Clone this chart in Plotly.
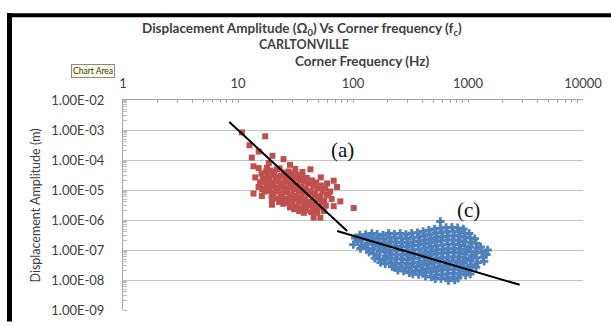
import plotly.graph_objects as go

# ---------------- data (log10 values) ----------------
# Red cluster (a): log10 corner frequency, log10 displacement amplitude
red_logf = [
    1.034, 1.237, 1.100, 1.180, 1.120, 1.268, 1.396, 1.135, 1.180, 1.252,
    1.339, 1.498, 1.630, 1.150, 1.193, 1.179, 1.135, 1.208, 1.295, 1.295,
    1.832, 1.861, 1.788, 1.890, 1.832, 2.006, 1.658, 1.716, 1.687, 1.745,
    1.300, 1.452, 1.560, 1.720, 1.775,
    1.205, 1.217, 1.197, 1.211,
    1.245, 1.257, 1.237, 1.251, 1.233,
    1.283, 1.295, 1.275, 1.289, 1.271, 1.292,
    1.318, 1.330, 1.310, 1.324, 1.306, 1.327,
    1.362, 1.374, 1.354, 1.368, 1.350, 1.371, 1.358,
    1.398, 1.410, 1.390, 1.404, 1.386, 1.407, 1.394,
    1.441, 1.453, 1.433, 1.447, 1.429, 1.450, 1.437, 1.452,
    1.478, 1.490, 1.470, 1.484, 1.466, 1.487, 1.474, 1.489,
    1.522, 1.534, 1.514, 1.528, 1.510, 1.531, 1.518, 1.533,
    1.561, 1.573, 1.553, 1.567, 1.549, 1.570, 1.557, 1.572,
    1.598, 1.610, 1.590, 1.604, 1.586, 1.607, 1.594,
    1.642, 1.654, 1.634, 1.648, 1.630, 1.651, 1.638,
    1.679, 1.691, 1.671, 1.685, 1.667, 1.688,
    1.721, 1.733, 1.713, 1.727, 1.709,
    1.758, 1.770, 1.750, 1.764,
    1.802, 1.814,
]
red_logA = [
    -3.08, -3.21, -3.51, -3.72, -3.92, -4.10, -3.97, -4.21, -4.27, -4.26,
    -4.31, -4.30, -4.31, -4.58, -4.74, -4.90, -5.12, -5.20, -5.34, -5.49,
    -4.69, -4.90, -5.17, -5.38, -5.54, -5.60, -5.92, -5.92, -5.76, -5.70,
    -3.86, -4.16, -4.40, -4.58, -4.78,
    -4.45, -4.62, -4.80, -4.98,
    -4.38, -4.55, -4.72, -4.90, -5.05,
    -4.35, -4.50, -4.68, -4.85, -5.02, -5.18,
    -4.40, -4.58, -4.75, -4.92, -5.10, -5.28,
    -4.28, -4.52, -4.70, -4.88, -5.05, -5.22, -5.40,
    -4.42, -4.60, -4.78, -4.95, -5.12, -5.30, -5.46,
    -4.38, -4.55, -4.72, -4.90, -5.08, -5.25, -5.42, -5.58,
    -4.45, -4.62, -4.80, -4.98, -5.15, -5.32, -5.50, -5.64,
    -4.50, -4.68, -4.86, -5.04, -5.20, -5.38, -5.55, -5.70,
    -4.55, -4.72, -4.90, -5.08, -5.26, -5.44, -5.62, -5.76,
    -4.60, -4.78, -4.96, -5.14, -5.32, -5.50, -5.68,
    -4.68, -4.86, -5.04, -5.22, -5.40, -5.58, -5.74,
    -4.75, -4.94, -5.12, -5.30, -5.48, -5.64,
    -4.85, -5.04, -5.22, -5.40, -5.58,
    -4.95, -5.15, -5.35, -5.52,
    -5.05, -5.30,
]

# Blue cluster (c)
blue_logf = [
    2.003, 2.020, 2.040,
    2.060, 2.070, 2.080, 2.090, 2.065,
    2.110, 2.120, 2.130, 2.120, 2.140, 2.130,
    2.160, 2.170, 2.180, 2.170, 2.180, 2.190, 2.165,
    2.210, 2.220, 2.230, 2.220, 2.235, 2.210, 2.230, 2.240,
    2.260, 2.270, 2.280, 2.265, 2.275, 2.285, 2.270, 2.280,
    2.310, 2.320, 2.330, 2.320, 2.315, 2.335, 2.320, 2.330, 2.340,
    2.360, 2.370, 2.380, 2.365, 2.375, 2.385, 2.370, 2.380, 2.360, 2.390,
    2.410, 2.420, 2.430, 2.415, 2.425, 2.435, 2.420, 2.430, 2.410, 2.440,
    2.460, 2.470, 2.480, 2.465, 2.475, 2.485, 2.470, 2.480, 2.460, 2.490,
    2.510, 2.520, 2.530, 2.515, 2.525, 2.535, 2.520, 2.530, 2.510, 2.540, 2.520,
    2.560, 2.570, 2.580, 2.565, 2.575, 2.585, 2.570, 2.580, 2.560, 2.590, 2.570,
    2.610, 2.620, 2.630, 2.615, 2.625, 2.635, 2.620, 2.630, 2.610, 2.640, 2.620, 2.630,
    2.660, 2.670, 2.680, 2.665, 2.675, 2.685, 2.670, 2.680, 2.660, 2.690, 2.670, 2.680,
    2.710, 2.720, 2.730, 2.715, 2.725, 2.735, 2.720, 2.730, 2.710, 2.740, 2.720, 2.730, 2.715,
    2.760, 2.770, 2.780, 2.765, 2.775, 2.785, 2.770, 2.780, 2.760, 2.790, 2.770, 2.780, 2.765, 2.760,
    2.810, 2.820, 2.830, 2.815, 2.825, 2.835, 2.820, 2.830, 2.810, 2.840, 2.820, 2.830, 2.815, 2.830,
    2.860, 2.870, 2.880, 2.865, 2.875, 2.885, 2.870, 2.880, 2.860, 2.890, 2.870, 2.880, 2.865, 2.885,
    2.910, 2.920, 2.930, 2.915, 2.925, 2.935, 2.920, 2.930, 2.910, 2.940, 2.920, 2.930, 2.915,
    2.960, 2.970, 2.980, 2.965, 2.975, 2.985, 2.970, 2.980, 2.960, 2.990, 2.970, 2.980,
    3.010, 3.020, 3.030, 3.015, 3.025, 3.035, 3.020, 3.030, 3.010, 3.020,
    3.060, 3.070, 3.080, 3.065, 3.075, 3.085, 3.070,
    3.110, 3.120, 3.130, 3.140, 3.160, 3.170,
]
blue_logA = [
    -6.82, -6.60, -6.72,
    -6.50, -6.66, -6.85, -6.57, -6.95,
    -6.48, -6.63, -6.78, -6.95, -7.08, -6.55,
    -6.52, -6.68, -6.82, -6.97, -7.12, -7.28, -6.45,
    -6.47, -6.60, -6.74, -6.88, -7.02, -7.16, -7.30, -7.42,
    -6.50, -6.64, -6.78, -6.92, -7.06, -7.20, -7.34, -7.46,
    -6.44, -6.58, -6.72, -6.86, -7.00, -7.14, -7.28, -7.42, -7.55,
    -6.47, -6.61, -6.75, -6.89, -7.03, -7.17, -7.31, -7.45, -7.58, -7.68,
    -6.45, -6.59, -6.73, -6.87, -7.01, -7.15, -7.29, -7.43, -7.57, -7.70,
    -6.48, -6.62, -6.76, -6.90, -7.04, -7.18, -7.32, -7.46, -7.60, -7.76,
    -6.44, -6.58, -6.72, -6.86, -7.00, -7.14, -7.28, -7.42, -7.56, -7.70, -7.80,
    -6.42, -6.56, -6.70, -6.84, -6.98, -7.12, -7.26, -7.40, -7.54, -7.68, -7.82,
    -6.38, -6.52, -6.66, -6.80, -6.94, -7.08, -7.22, -7.36, -7.50, -7.64, -7.77, -7.88,
    -6.34, -6.48, -6.62, -6.76, -6.90, -7.04, -7.18, -7.32, -7.46, -7.60, -7.74, -7.90,
    -6.30, -6.44, -6.58, -6.72, -6.86, -7.00, -7.14, -7.28, -7.42, -7.56, -7.70, -7.84, -7.96,
    -6.27, -6.41, -6.55, -6.69, -6.83, -6.97, -7.11, -7.25, -7.39, -7.53, -7.67, -7.81, -7.95, -6.05,
    -6.25, -6.39, -6.53, -6.67, -6.81, -6.95, -7.09, -7.23, -7.37, -7.51, -7.65, -7.79, -7.93, -8.02,
    -6.24, -6.38, -6.52, -6.66, -6.80, -6.94, -7.08, -7.22, -7.36, -7.50, -7.64, -7.78, -7.92, -8.00,
    -6.26, -6.40, -6.54, -6.68, -6.82, -6.96, -7.10, -7.24, -7.38, -7.52, -7.66, -7.80, -7.94,
    -6.30, -6.44, -6.58, -6.72, -6.86, -7.00, -7.14, -7.28, -7.42, -7.56, -7.70, -7.84,
    -6.45, -6.60, -6.75, -6.90, -7.05, -7.20, -7.35, -7.50, -7.65, -7.80,
    -6.62, -6.78, -6.94, -7.10, -7.26, -7.42, -7.58,
    -6.90, -7.08, -7.24, -7.38, -7.15, -7.00,
]

# Fitted lines (Hz, m)
line_a_f = [8.4, 88.9]
line_a_amp = [1.86e-3, 4.3e-7]
line_c_f = [72.7, 2813.0]
line_c_amp = [4.3e-7, 6.9e-9]

x_tick_vals = [1, 10, 100, 1000, 10000]
x_tick_text = ["1", "10", "100", "1000", "10000"]
y_tick_vals = [1e-9, 1e-8, 1e-7, 1e-6, 1e-5, 1e-4, 1e-3, 1e-2]
y_tick_text = ["1.00E-09", "1.00E-08", "1.00E-07", "1.00E-06",
               "1.00E-05", "1.00E-04", "1.00E-03", "1.00E-02"]

# ---------------- figure ----------------
red_f = [10 ** v for v in red_logf]
red_amp = [10 ** v for v in red_logA]
blue_f = [10 ** v for v in blue_logf]
blue_amp = [10 ** v for v in blue_logA]

FONT = "Lato, 'Open Sans', sans-serif"
TXT = "#404040"

fig = go.Figure()
fig.add_trace(go.Scatter(x=blue_f, y=blue_amp, mode="markers",
                         marker=dict(symbol="cross", size=7, color="#4F81BD",
                                     line=dict(width=0)),
                         showlegend=False, hoverinfo="skip"))
fig.add_trace(go.Scatter(x=red_f, y=red_amp, mode="markers",
                         marker=dict(symbol="square", size=6, color="#C0504D",
                                     line=dict(width=0)),
                         showlegend=False, hoverinfo="skip"))
fig.add_trace(go.Scatter(x=line_a_f, y=line_a_amp, mode="lines",
                         line=dict(color="black", width=2),
                         showlegend=False, hoverinfo="skip"))
fig.add_trace(go.Scatter(x=line_c_f, y=line_c_amp, mode="lines",
                         line=dict(color="black", width=2),
                         showlegend=False, hoverinfo="skip"))

L, R, T, B = 123, 28, 100, 8
W, H = 611, 326
pw, ph = W - L - R, H - T - B


def px(x):
    return (x - L) / pw


def py(y):
    return (H - B - y) / ph


fig.update_layout(
    width=W, height=H,
    margin=dict(l=L, r=R, t=T, b=B, pad=0),
    paper_bgcolor="white", plot_bgcolor="white",
    font=dict(family=FONT, size=12, color=TXT),
    xaxis=dict(type="log", side="top", range=[0, 4],
               tickmode="array", tickvals=x_tick_vals, ticktext=x_tick_text,
               showgrid=False, zeroline=False,
               showline=True, linecolor="#A6A6A6", linewidth=1,
               ticks="inside", ticklen=3, tickcolor="#A6A6A6",
               minor=dict(ticks="inside", ticklen=3, tickcolor="#A6A6A6",
                          dtick="D1", showgrid=False),
               tickfont=dict(family=FONT, size=13, color=TXT),
               ticklabelstandoff=6),
    yaxis=dict(type="log", range=[-9, -2],
               tickmode="array", tickvals=y_tick_vals, ticktext=y_tick_text,
               showgrid=True, gridcolor="#C4C4C4", gridwidth=1, zeroline=False,
               showline=True, linecolor="#A6A6A6", linewidth=1,
               ticks="",
               minor=dict(ticks="inside", ticklen=4, tickcolor="#BDBDBD",
                          dtick="D1", showgrid=False),
               tickfont=dict(family=FONT, size=13, color=TXT),
               ticklabelstandoff=15),
)

annotations = [
    dict(text="<b>Displacement Amplitude (\u03a9<sub>0</sub>) Vs Corner frequency (f<sub>c</sub>)</b>",
         x=px(302), y=py(26), font=dict(size=13.5, color=TXT)),
    dict(text="<b>CARLTONVILLE</b>", x=px(304), y=py(42.5), font=dict(size=12.5, color=TXT)),
    dict(text="<b>Corner Frequency (Hz)</b>", x=px(362), y=py(60), font=dict(size=13.5, color=TXT)),
    dict(text="Displacement Amplitude (m)", x=px(35), y=py(209.5), textangle=-90,
         font=dict(size=12.5, color=TXT)),
    dict(text="Chart Area", x=px(93), y=py(70), font=dict(size=8.5, color="#333333"),
         bgcolor="#FFFFE6", bordercolor="#8A8A8A", borderwidth=1, borderpad=1),
]
for a in annotations:
    a.update(xref="paper", yref="paper", showarrow=False,
             xanchor="center", yanchor="middle")
    fig.add_annotation(**a)

fig.add_annotation(text="(a)", x=1.912, y=-3.68, xref="x", yref="y", showarrow=False,
                   font=dict(family="'Liberation Serif', 'Times New Roman', serif",
                             size=21, color="#111111"))
fig.add_annotation(text="(c)", x=3.0, y=-5.67, xref="x", yref="y", showarrow=False,
                   font=dict(family="'Liberation Serif', 'Times New Roman', serif",
                             size=21, color="#111111"))

# black frame (left and top edges of the chart border)
fig.add_shape(type="rect", xref="paper", yref="paper",
              x0=px(7), x1=px(12), y0=py(330), y1=py(10),
              fillcolor="black", line=dict(width=0), layer="above")
fig.add_shape(type="rect", xref="paper", yref="paper",
              x0=px(7), x1=px(616), y0=py(14), y1=py(10),
              fillcolor="black", line=dict(width=0), layer="above")

fig.write_html("out.html",
               config={"displayModeBar": False},
               post_script="document.body.style.margin='0';document.body.style.overflow='hidden';")
